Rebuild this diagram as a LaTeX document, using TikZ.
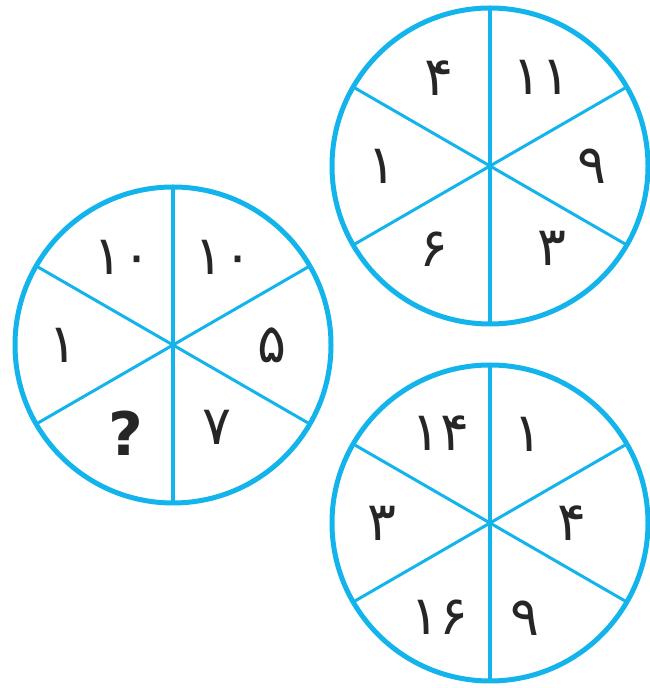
\documentclass[tikz,border=0pt]{standalone}
\usepackage{fontspec}
\newfontfamily\arabicfont[Script=Arabic]{DejaVu Sans}
\usetikzlibrary{calc}
\definecolor{wheelblue}{RGB}{18,180,235}

\begin{document}
\begin{tikzpicture}[x=1pt, y=1pt,
  rim/.style={draw=wheelblue, line width=5pt},
  spoke/.style={draw=wheelblue, line width=3pt},
  num/.style={font=\arabicfont\fontsize{54}{54}\selectfont, text=black!85, inner sep=0pt}]
\useasboundingbox (0,0) rectangle (649,688);
% three wheels, six sectors each
\foreach \cx/\cy/\name in {490/522/top, 173/343/left, 490/165/bot} {
  \coordinate (\name) at (\cx,\cy);
  \draw[rim] (\name) circle (158);
  \draw[spoke, line width=3.6pt] ($(\name)+(90:158)$) -- ($(\name)+(270:158)$);
  \draw[spoke] ($(\name)+(30:158)$) -- ($(\name)+(210:158)$);
  \draw[spoke] ($(\name)+(150:158)$) -- ($(\name)+(330:158)$);
}
% top wheel
\node[num] (t1) at ($(top)+(120:102)$) {۴};
\node[num] (t2) at ($(top)+(60:102)$) {۱۱};
\node[num] (t3) at ($(top)+(0:102)$) {۹};
\node[num] (t4) at ($(top)+(-53:103)$) {۳};
\node[num] (t5) at ($(top)+(236:100)$) {۶};
\node[num] (t6) at ($(top)+(180:108)$) {۱};
% left wheel
\node[num] (l1) at ($(left)+(120:101)$) {۱۰};
\node[num] (l2) at ($(left)+(60:101)$) {۱۰};
\node[num] (l3) at ($(left)+(0:99)$) {۵};
\node[num] (l4) at ($(left)+(-62:93)$) {۷};
\node[num, font=\arabicfont\bfseries\fontsize{60}{60}\selectfont] (l5) at ($(left)+(242:100)$) {?};
\node[num] (l6) at ($(left)+(180:110)$) {۱};
% bottom wheel
\node[num] (b1) at ($(bot)+(119:103)$) {۱۴};
\node[num] (b2) at ($(bot)+(67:96)$) {۱};
\node[num] (b3) at ($(bot)+(0:82)$) {۴};
\node[num] (b4) at ($(bot)+(-70:101)$) {۹};
\node[num] (b5) at ($(bot)+(242:107)$) {۱۶};
\node[num] (b6) at ($(bot)+(180:108)$) {۳};
\end{tikzpicture}
\end{document}
